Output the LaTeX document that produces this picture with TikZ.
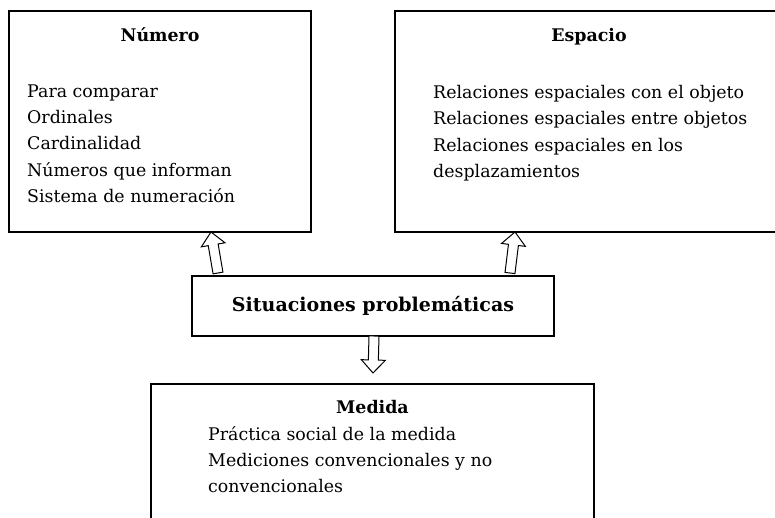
\documentclass[tikz,border=0pt]{standalone}
\usepackage{fontspec}
\setmainfont{DejaVu Serif}
\usetikzlibrary{calc,positioning}

\begin{document}
\begin{tikzpicture}[x=1pt,y=1pt,line join=miter,
	box/.style={draw,line width=1.3pt,inner sep=0pt,outer sep=0pt},
	heading/.style={font=\fontsize{17.4}{20}\selectfont\bfseries,inner sep=0pt,anchor=base},
	items/.style={font=\fontsize{17.4}{26.4}\selectfont,align=left,inner sep=0pt,anchor=north west},
	hollow/.style={draw,fill=white,line width=1pt}]
			\useasboundingbox (0,0) rectangle (775,-518);
			\clip (0,0) rectangle (775,-518);
			\node[box,minimum width=302pt,minimum height=221pt,anchor=north west] (num) at (9,-11) {};
			\node[box,minimum width=388pt,minimum height=221pt,anchor=north west] (esp) at (395,-11) {};
			\node[box,minimum width=362pt,minimum height=60pt,font=\fontsize{19}{22}\selectfont\bfseries] (sit) at (373,-306) {Situaciones problemáticas};
			\node[box,minimum width=443pt,minimum height=170pt,anchor=north west] (med) at (151,-384) {};
			\node[heading] (numtitle) at ($(num.north)+(0,-31)$) {Número};
			\node[heading] (esptitle) at ($(esp.north)+(0,-31)$) {Espacio};
			\node[heading] (medtitle) at ($(med.north)+(0,-29)$) {Medida};
			\node[items] (numlist) at ($(num.north west)+(18,-73.3)$) {Para comparar\\Ordinales\\Cardinalidad\\Números que informan\\Sistema de numeración};
			\node[items] (esplist) at ($(esp.north west)+(38,-73.8)$) {Relaciones espaciales con el objeto\\Relaciones espaciales entre objetos\\Relaciones espaciales en los\\desplazamientos};
			\node[items] (medlist) at ($(med.north west)+(57,-42)$) {Práctica social de la medida\\Mediciones convencionales y no\\convencionales};
			\coordinate (a1s) at ($(sit.north west)+(26,3)$);
			\coordinate (a1e) at ($(num.south west)+(202,0)$);
			\coordinate (a2s) at ($(sit.north east)+(-44,3)$);
			\coordinate (a2e) at ($(esp.south west)+(120,0)$);
			\coordinate (a3s) at ($(sit.south)+(1,0)$);
			\coordinate (a3e) at ($(med.north)+(0.5,11)$);
			\foreach \s/\e in {a1s/a1e,a2s/a2e,a3s/a3e}
			{
				\coordinate (neck) at ($(\e)!13pt!(\s)$);
				\draw[hollow] ($(\s)!5pt!90:(\e)$) -- ($(neck)!5pt!-90:(\s)$) -- ($(neck)!12pt!-90:(\s)$) -- (\e)
					-- ($(neck)!12pt!90:(\s)$) -- ($(neck)!5pt!90:(\s)$) -- ($(\s)!5pt!-90:(\e)$) -- cycle;
			}
		\end{tikzpicture}
\end{document}
